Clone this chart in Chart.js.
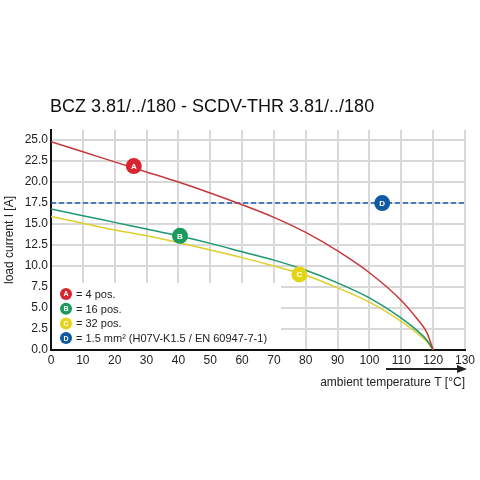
<!DOCTYPE html>
<html><head><meta charset="utf-8">
<script src="https://cdn.jsdelivr.net/npm/chart.js@4"></script>
<style>html,body{margin:0;padding:0;background:#fff}#w{width:480px;height:480px}</style>
</head><body><div id="w"><canvas id="c"></canvas></div>
<script>
const temps = [0,10,20,30,40,50,60,70,80,90,100,110,115,118,120];
const seriesA = [24.8,23.6,22.4,21.2,20.0,18.7,17.3,15.8,14.0,11.8,9.2,5.9,3.7,2.1,0];
const seriesB = [16.8,16.0,15.2,14.4,13.6,12.7,11.7,10.7,9.5,8.0,6.2,3.8,2.3,1.2,0];
const seriesC = [15.9,15.1,14.3,13.6,12.8,11.9,11.0,10.0,8.9,7.4,5.7,3.4,2.0,1.0,0];
const limitD = 17.5;
const markers = [{l:'A',x:26,y:21.9},{l:'B',x:40.5,y:13.6},{l:'C',x:78,y:9.0},{l:'D',x:104,y:17.5}];
const legendLabels = ['= 4 pos.','= 16 pos.','= 32 pos.','= 1.5 mm² (H07V-K1.5 / EN 60947-7-1)'];
const xTicks = [0,10,20,30,40,50,60,70,80,90,100,110,120,130];
const yTicks = [0,2.5,5,7.5,10,12.5,15,17.5,20,22.5,25];
const mColors = ['#d7262f','#1b9a5c','#e3d417','#0e5aa3'];
const lColors = ['#c6373c','#1d9770','#dccf2a','#1d5fae'];
const F = 'Liberation Sans, Arial, sans-serif';

const pts = a => temps.map((t,i)=>({x:t,y:a[i]}));
const deco = {
  id:'deco',
  beforeDatasetsDraw(ch){
    const c=ch.ctx; c.save(); c.fillStyle='#fff'; c.fillRect(52,283,229,66); c.restore();
  },
  afterDraw(ch){
    const c=ch.ctx, xs=ch.scales.x, ys=ch.scales.y;
    c.save();
    const disc=(x,y,col,l)=>{c.beginPath();c.arc(x,y,8,0,Math.PI*2);c.fillStyle=col;c.fill();
      c.fillStyle='#fff';c.font='bold 8px '+F;c.textAlign='center';c.textBaseline='middle';c.fillText(l,x,y+0.5);};
    markers.forEach((m,i)=>disc(xs.getPixelForValue(m.x),ys.getPixelForValue(m.y),mColors[i],m.l));
    legendLabels.forEach((t,i)=>{const y=294+i*14.7;
      c.beginPath();c.arc(66,y,6,0,Math.PI*2);c.fillStyle=mColors[i];c.fill();
      c.fillStyle='#fff';c.font='bold 7px '+F;c.textAlign='center';c.textBaseline='middle';c.fillText(markers[i].l,66,y+0.5);
      c.fillStyle='#222';c.font='11px '+F;c.textAlign='left';c.fillText(t,76,y+1);});
    c.fillStyle='#111';c.font='18px '+F;c.textAlign='left';c.textBaseline='alphabetic';
    c.fillText('BCZ 3.81/../180 - SCDV-THR 3.81/../180',50,112);
    c.font='12px '+F;c.textAlign='right';c.fillStyle='#222';
    c.fillText('ambient temperature T [°C]',465,386);
    c.strokeStyle='#222';c.lineWidth=2;c.beginPath();c.moveTo(386,369);c.lineTo(460,369);c.stroke();
    c.fillStyle='#222';c.beginPath();c.moveTo(467,369);c.lineTo(457,365);c.lineTo(457,373);c.closePath();c.fill();
    c.translate(13,240);c.rotate(-Math.PI/2);c.textAlign='center';c.font='12px '+F;
    c.fillText('load current I [A]',0,0);
    c.restore();
  }
};
new Chart(document.getElementById('c'),{
  type:'line',
  data:{datasets:[
    {data:pts(seriesA),borderColor:lColors[0],borderWidth:1.5,pointRadius:0,tension:0.4,cubicInterpolationMode:'monotone'},
    {data:pts(seriesB),borderColor:lColors[1],borderWidth:1.5,pointRadius:0,cubicInterpolationMode:'monotone'},
    {data:pts(seriesC),borderColor:lColors[2],borderWidth:1.5,pointRadius:0,cubicInterpolationMode:'monotone'},
    {data:[{x:0,y:limitD},{x:130,y:limitD}],borderColor:lColors[3],borderWidth:1.5,borderDash:[5,3],pointRadius:0}
  ]},
  options:{responsive:true,maintainAspectRatio:false,animation:false,
    layout:{padding:{top:130,right:15,left:0,bottom:0}},
    plugins:{legend:{display:false},tooltip:{enabled:false}},
    scales:{
      x:{type:'linear',min:0,max:130,afterFit(s){s.height=130;},
        afterBuildTicks(s){s.ticks=xTicks.map(v=>({value:v}));},
        grid:{color:'#d8d8d8',lineWidth:2,drawTicks:false},border:{color:'#111',width:2},
        ticks:{color:'#222',font:{family:F,size:12},padding:3}},
      y:{min:0,max:26.2,afterFit(s){s.width=51;},
        afterBuildTicks(s){s.ticks=yTicks.map(v=>({value:v}));},
        grid:{color:'#d8d8d8',lineWidth:2,drawTicks:false},border:{color:'#111',width:2},
        ticks:{color:'#222',font:{family:F,size:12},padding:3,callback:v=>v.toFixed(1)}}
    }},
  plugins:[deco]
});
</script></body></html>
